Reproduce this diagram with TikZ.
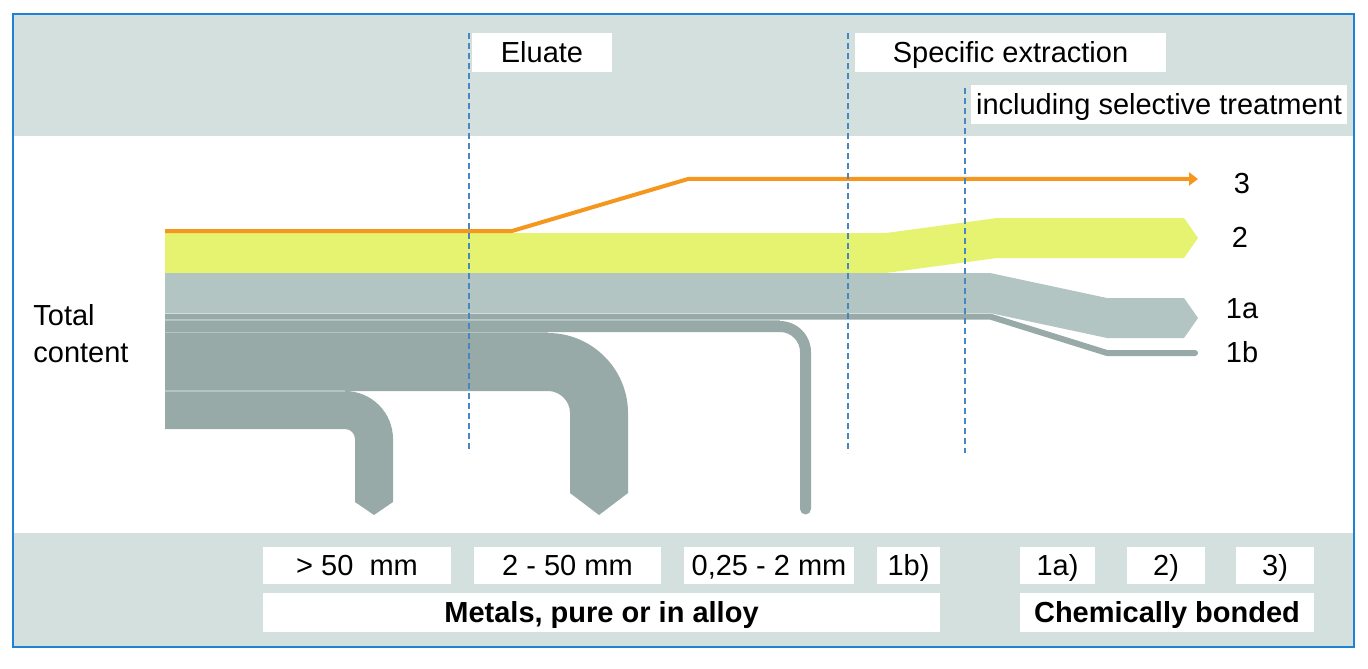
\documentclass[tikz,border=0pt]{standalone}
\usepackage{fontspec}
\setmainfont{Liberation Sans}
\usetikzlibrary{arrows.meta}
\definecolor{frameblue}{RGB}{30,130,215}
\definecolor{band}{RGB}{211,224,221}
\definecolor{guideblue}{RGB}{70,135,195}
\definecolor{flowlight}{RGB}{179,197,194}
\definecolor{flowdark}{RGB}{152,170,167}
\definecolor{flowyellow}{RGB}{230,243,112}
\definecolor{floworange}{RGB}{245,150,30}
\tikzset{
  every picture/.style={font=\fontsize{14.5}{18.5}\selectfont},
  tag/.style={fill=white, inner sep=0pt, text=black, align=center, text height=11pt, text depth=1pt},
  toptag/.style={tag, minimum height=19.5pt},
  sizetag/.style={tag, minimum height=18.5pt},
  grouptag/.style={tag, minimum height=19.5pt, font=\fontsize{14.5}{18.5}\selectfont\bfseries},
  guide/.style={draw=guideblue, line width=0.7pt, dash pattern=on 3pt off 2pt},
  seam/.style={draw=flowlight, line width=0.6pt},
  lbl/.style={inner sep=0pt, text=black},
}

\begin{document}
\begin{tikzpicture}[x=0.5pt, y=-0.5pt]
  \useasboundingbox (0,0) rectangle (1368,668);
  % bands
  \fill[band] (13,14) rectangle (1354,136);
  \fill[band] (13,533) rectangle (1354,647);
  \draw[frameblue, line width=0.75pt] (13,14) rectangle (1354,647);

  % flows
  \fill[flowyellow] (165,233) -- (886,233) -- (997,218) -- (1184,218) -- (1198,238)
    -- (1184,258) -- (997,258) -- (886,273) -- (165,273) -- cycle;
  \fill[flowlight] (165,273) -- (990,273) -- (1107,298) -- (1184,298) -- (1198,318)
    -- (1184,338) -- (1107,338) -- (990,313) -- (165,313) -- cycle;
  \fill[flowdark] (165,391) -- (345,391) .. controls (371.5,391) and (393,412.5) .. (393,439)
    -- (393,502) -- (374,515) -- (355,502) -- (355,439)
    .. controls (355,433.5) and (350.5,429) .. (345,429) -- (165,429) -- cycle;
  \fill[flowdark] (165,333) -- (548,333) .. controls (592,333) and (628,369) .. (628,413)
    -- (628,493) -- (599,515) -- (570,493) -- (570,413)
    .. controls (570,401) and (560,391) .. (548,391) -- (165,391) -- cycle;
  \fill[flowdark] (165,321) -- (780,321) .. controls (797,321) and (811,335) .. (811,352)
    -- (811,509) .. controls (811,512) and (808.5,514.5) .. (805.5,514.5)
    .. controls (802.5,514.5) and (800,512) .. (800,509) -- (800,352)
    .. controls (800,341) and (791,332) .. (780,332) -- (165,332) -- cycle;
  \draw[flowdark, line width=3pt, line join=round]
    (165,316.5) -- (990,316.5) -- (1107,353) -- (1195,353);
  \fill[flowdark] (1195,353) circle[radius=1.5pt];
  \draw[seam] (165,320.5) -- (780,320.5);
  \draw[seam] (165,332.5) -- (548,332.5);
  \draw[seam] (165,391) -- (345,391);
  \draw[floworange, line width=2pt, -{Triangle[length=4.5pt,width=6.5pt]}]
    (165,231) -- (512,231) -- (688,179) -- (1198,179);

  % phase limits
  \draw[guide] (469,33) -- (469,453);
  \draw[guide] (848,33) -- (848,453);
  \draw[guide] (965,88) -- (965,453);

  \node[toptag, minimum width=70pt] (eluate) at (542,52.5) {Eluate};
  \node[toptag, minimum width=155.5pt] (specific) at (1010.5,52.5) {Specific extraction};
  \node[toptag, minimum width=188pt] (selective) at (1159,104.5) {including selective treatment};

  \node[lbl, anchor=west, align=left] (total) at (33,334) {Total\\content};
  \node[lbl] (out3) at (1242,184) {3};
  \node[lbl] (out2) at (1240,237) {2};
  \node[lbl] (out1a) at (1242,309) {1a};
  \node[lbl] (out1b) at (1242,352) {1b};

  \node[sizetag, minimum width=94pt] (coarse) at (357,565.5) {> 50~~mm};
  \node[sizetag, minimum width=93.5pt] (medium) at (567.5,565.5) {2 - 50 mm};
  \node[sizetag, minimum width=85pt] (fine) at (769,565.5) {0,25 - 2 mm};
  \node[sizetag, minimum width=31.5pt] (k1b) at (908.5,565.5) {1b)};
  \node[sizetag, minimum width=37.5pt] (k1a) at (1057.5,565.5) {1a)};
  \node[sizetag, minimum width=39pt] (k2) at (1166,565.5) {2)};
  \node[sizetag, minimum width=39pt] (k3) at (1275,565.5) {3)};
  \node[grouptag, minimum width=338.5pt] (metals) at (601.5,612.5) {Metals, pure or in alloy};
  \node[grouptag, minimum width=147pt] (bonded) at (1167,612.5) {Chemically bonded};
\end{tikzpicture}
\end{document}
